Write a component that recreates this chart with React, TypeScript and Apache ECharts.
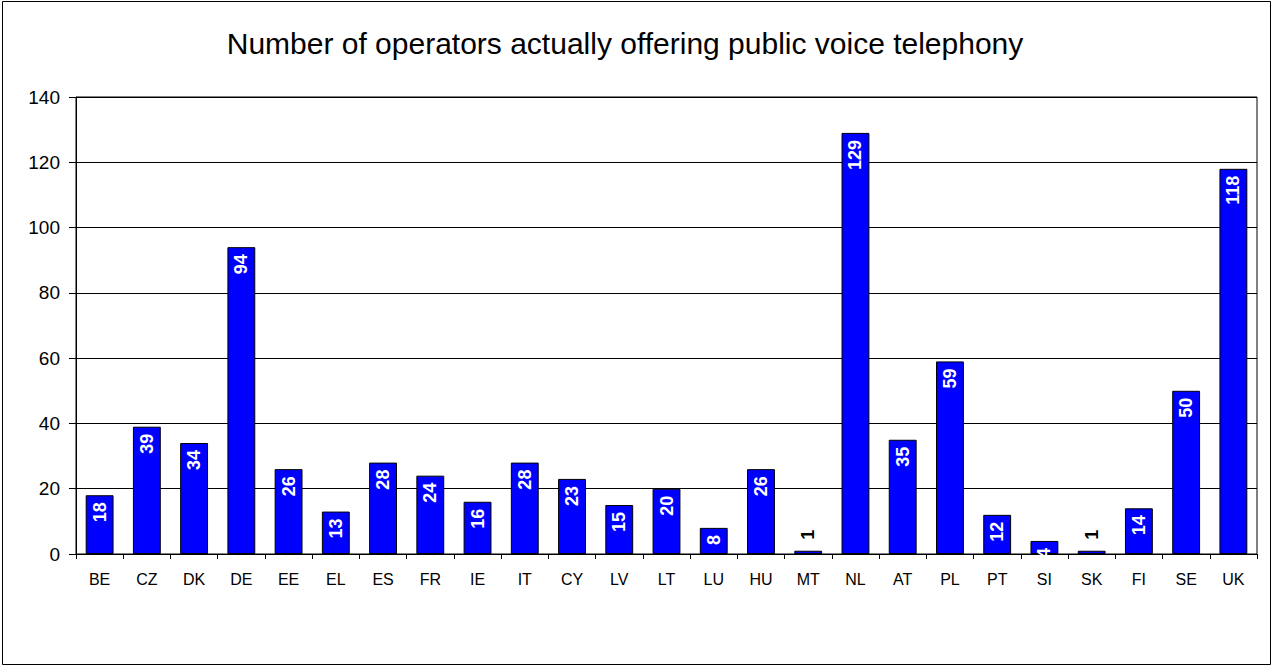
import React, { useEffect, useRef } from "react";
import * as echarts from "echarts";

const categories = ["BE","CZ","DK","DE","EE","EL","ES","FR","IE","IT","CY","LV","LT","LU","HU","MT","NL","AT","PL","PT","SI","SK","FI","SE","UK"];
const operators = [18,39,34,94,26,13,28,24,16,28,23,15,20,8,26,1,129,35,59,12,4,1,14,50,118];
const yTicks = [0,20,40,60,80,100,120,140];
const titleText = "Number of operators actually offering public voice telephony";
const outsideLabelCats = ["MT","SK"];

export default function App() {
  const ref = useRef<HTMLDivElement>(null);
  useEffect(() => {
    if (!ref.current) return;
    const chart = echarts.init(ref.current, null, { renderer: "svg" });
    const font = "'Liberation Sans', Arial, sans-serif";
    const data = operators.map((v, i) => {
      if (outsideLabelCats.includes(categories[i])) {
        return {
          value: v,
          label: {
            position: "top",
            distance: 11,
            align: "left",
            verticalAlign: "middle",
            color: "#000",
          },
        };
      }
      return v;
    });
    chart.setOption({
      animation: false,
      backgroundColor: "#fff",
      graphic: [
        {
          type: "rect",
          shape: { x: 2.5, y: 1.5, width: 1268, height: 663 },
          style: { fill: "none", stroke: "#000", lineWidth: 1 },
          silent: true,
        },
        {
          type: "text",
          x: 625,
          y: 43.5,
          style: {
            text: titleText,
            font: `30px ${font}`,
            fill: "#000",
            textAlign: "center",
            textVerticalAlign: "middle",
          },
        },
      ],
      grid: { left: 76, top: 97, right: 17, bottom: 112, show: true, borderColor: "#000", borderWidth: 1 },
      xAxis: {
        type: "category",
        data: categories,
        boundaryGap: true,
        axisLine: { lineStyle: { color: "#000", width: 1 } },
        axisTick: { show: true, length: 5, alignWithLabel: false, lineStyle: { color: "#000" } },
        axisLabel: { color: "#000", fontFamily: "'Liberation Sans Narrow', 'Arial Narrow', " + font, fontSize: 16, margin: 17, interval: 0 },
      },
      yAxis: {
        type: "value",
        min: yTicks[0],
        max: yTicks[yTicks.length - 1],
        interval: 20,
        axisLine: { show: true, lineStyle: { color: "#000", width: 1 } },
        axisTick: { show: true, length: 7, lineStyle: { color: "#000" } },
        axisLabel: { color: "#000", fontFamily: font, fontSize: 19, margin: 16 },
        splitLine: { show: true, lineStyle: { color: "#000", width: 1 } },
      },
      series: [
        {
          type: "bar",
          data,
          barCategoryGap: "41%",
          itemStyle: { color: "#0000FF", borderColor: "#000", borderWidth: 1 },
          label: {
            show: true,
            position: "insideTop",
            distance: 7,
            rotate: 90,
            align: "right",
            verticalAlign: "middle",
            color: "#fff",
            fontFamily: font,
            fontWeight: "bold",
            fontSize: 18,
          },
        },
      ],
    });
    return () => chart.dispose();
  }, []);
  return <div ref={ref} style={{ position: "absolute", left: 0, top: 0, width: 1274, height: 666 }} />;
}
